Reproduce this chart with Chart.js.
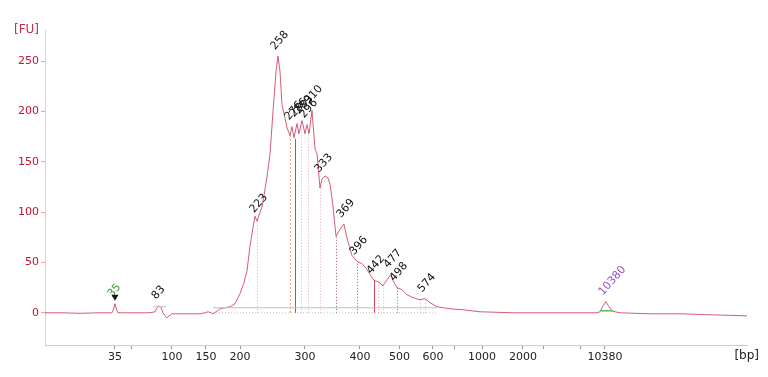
<!DOCTYPE html>
<html>
<head>
<meta charset="utf-8">
<title>Electropherogram</title>
<script src="https://cdn.jsdelivr.net/npm/chart.js"></script>
<style>
  html, body { margin: 0; padding: 0; background: #fff; }
  #wrap { width: 768px; height: 377px; }
</style>
</head>
<body>
<div id="wrap"><canvas id="chart" width="768" height="377"></canvas></div>
<script>
// migration time [s] -> fluorescence [FU]
const traceTime = [40.00, 42.00, 44.50, 47.05, 48.33, 48.59, 48.72, 48.97, 49.23, 49.36, 49.62, 52.18, 53.46, 54.10, 54.36, 54.62, 54.87, 55.13, 55.38, 55.64, 55.90, 56.28,
  57.31, 58.59, 59.87, 60.51, 60.90, 61.28, 61.54, 61.92, 62.44, 63.08, 63.72, 64.36, 65.00, 65.51, 65.90, 66.28, 66.67, 66.92, 67.18, 67.44, 67.82,
  68.21, 68.46, 68.85, 69.23, 69.62, 69.87, 70.13, 70.38, 70.77, 71.03, 71.41, 71.67, 71.92, 72.31, 72.56, 72.95, 73.33, 73.59, 73.85, 74.23, 74.36,
  74.62, 74.87, 75.26, 75.51, 75.90, 76.28, 76.54, 76.92, 77.31, 77.82, 78.33, 78.72, 79.36, 80.00, 80.64, 81.28, 81.92, 82.18, 82.69, 83.33, 83.85,
  84.36, 84.62, 85.13, 85.77, 86.41, 87.18, 88.08, 88.72, 89.36, 90.26, 91.92, 93.59, 95.77, 100.00, 106.03, 110.77, 111.15, 111.54, 111.92, 112.31,
  112.69, 113.08, 113.72, 117.56, 121.41, 125.26, 130.00];
const traceFU = [0, 0, -0.5, 0, 0, 0, 2, 9, 2, 0, 0, 0, 0, 1, 5, 7, 5, 0, -3, -5, -3, -1,
  -1, -1, -1, 0, 1, 0, -1, 1, 4, 5, 6, 9, 19, 30, 42, 66, 85, 96, 91, 97, 105,
  123, 135, 158, 200, 240, 255, 240, 207, 193, 184, 176, 185, 174, 188, 178, 191, 178, 187, 178, 201, 188,
  163, 158, 124, 133, 136, 134, 128, 106, 76, 83, 88, 74, 57, 51, 49, 43, 35, 32, 31, 27, 33,
  38, 32, 25, 23, 18, 15, 13, 14, 10, 6, 4, 3, 1, 0, 0, 0, 1, 7, 11, 6,
  2, 1, 0, -1, -1, -2, -3];

// called peaks
const peakLabels = ['35', '83', '223', '258', '276', '286', '289', '296', '310', '333', '369', '396', '442', '477', '498', '574', '10380'];
const peakTimes = [48.97, 54.62, 67.18, 69.87, 71.67, 72.31, 72.95, 73.59, 74.23, 75.51, 78.33, 80.00, 82.18, 84.36, 85.13, 88.72, 111.92];
const peakFU = [9, 7, 93, 255, 185, 188, 191, 187, 201, 133, 88, 51, 32, 38, 25, 14, 11];

// peak / region marker lines
const markTimes = [67.18, 71.41, 72.05, 72.82, 73.72, 75.26, 77.31, 80.00, 82.18, 82.69, 83.33, 85.13, 88.08, 88.72];
const markFU = [95, 176, 173, 186, 182, 124, 76, 51, 32, 31, 30, 25, 13, 14];
const markKind = ['dot', 'dash', 'solid', 'dot', 'dot', 'dot', 'dark', 'dark', 'solid', 'dot', 'dot', 'red', 'dot', 'dot'];

// size ladder on the time axis
const tickTimes = [48.97, 51.03, 56.28, 60.64, 65.00, 73.33, 80.38, 85.45, 89.74, 92.44, 96.03, 101.28, 103.85, 108.59, 111.79];
const tickLabels = ['35', '', '100', '150', '200', '300', '400', '500', '600', '', '1000', '2000', '', '', '10380'];
const yTicks = [0, 50, 100, 150, 200, 250];

const kindStyle = {
  dot: { color: 'rgba(214,120,140,0.6)', dash: [1, 2] },
  dash: { color: 'rgba(225,140,110,0.9)', dash: [2, 2] },
  solid: { color: 'rgba(205,45,75,0.9)', dash: [] },
  dark: { color: 'rgba(120,50,60,0.8)', dash: [1, 2] },
  red: { color: 'rgba(205,50,70,0.85)', dash: [1, 2] }
};

const pts = (xs, ys) => xs.map((x, i) => ({ x: x, y: ys[i] }));

const overlay = {
  id: 'overlay',
  beforeDatasetsDraw(chart) {
    const { ctx, scales: { x, y } } = chart;
    ctx.save();
    ctx.lineWidth = 1;
    markTimes.forEach((t, i) => {
      const s = kindStyle[markKind[i]];
      const px = Math.round(x.getPixelForValue(t)) + 0.5;
      ctx.strokeStyle = s.color;
      ctx.setLineDash(s.dash);
      ctx.beginPath();
      ctx.moveTo(px, y.getPixelForValue(0));
      ctx.lineTo(px, y.getPixelForValue(markFU[i]));
      ctx.stroke();
    });
    ctx.restore();
  },
  afterDatasetsDraw(chart) {
    const { ctx, chartArea, scales: { x, y } } = chart;
    ctx.save();
    ctx.font = '11px "DejaVu Sans", sans-serif';
    ctx.textAlign = 'left';
    ctx.textBaseline = 'alphabetic';
    peakLabels.forEach((lab, i) => {
      const px = x.getPixelForValue(peakTimes[i]);
      const py = y.getPixelForValue(peakFU[i]);
      ctx.save();
      ctx.translate(px - 3, py - 6);
      ctx.rotate(-0.85);
      ctx.fillStyle = i === 0 ? '#3a9a3a' : (i === peakLabels.length - 1 ? '#9650cc' : '#111');
      ctx.fillText(lab, 0, 0);
      ctx.restore();
    });
    // lower marker triangle
    const mx = x.getPixelForValue(peakTimes[0]);
    const my = y.getPixelForValue(peakFU[0] + 6);
    ctx.fillStyle = '#111';
    ctx.beginPath();
    ctx.moveTo(mx - 3.5, my - 3);
    ctx.lineTo(mx + 3.5, my - 3);
    ctx.lineTo(mx, my + 3);
    ctx.closePath();
    ctx.fill();
    // unit labels
    ctx.font = '12px "DejaVu Sans", sans-serif';
    ctx.fillStyle = '#c0304a';
    ctx.textAlign = 'right';
    ctx.textBaseline = 'middle';
    ctx.fillText('[FU]', chartArea.left - 6, chartArea.top);
    ctx.fillStyle = '#222';
    ctx.fillText('[bp]', chartArea.right + 12, chartArea.bottom + 11);
    ctx.restore();
  }
};

new Chart(document.getElementById('chart'), {
  type: 'line',
  data: {
    datasets: [
      {
        data: pts([61.54, 90.26], [0, 0]),
        borderColor: 'rgba(220,130,150,0.6)', borderWidth: 1, borderDash: [1, 2], pointRadius: 0
      },
      {
        data: pts([61.54, 90.26], [5, 5]),
        borderColor: '#9fd6b4', borderWidth: 1, pointRadius: 0
      },
      {
        data: pts([53.85, 55.51], [6, 6]),
        borderColor: '#bbbbbb', borderWidth: 1, pointRadius: 0
      },
      {
        data: pts([111.15, 112.82], [2, 2]),
        borderColor: '#5cb85c', borderWidth: 1.5, pointRadius: 0
      },
      {
        data: pts(traceTime, traceFU),
        borderColor: 'rgba(205,50,80,0.8)', borderWidth: 1, pointRadius: 0, tension: 0
      }
    ]
  },
  options: {
    responsive: false,
    animation: false,
    devicePixelRatio: 1,
    layout: { padding: { top: 30, right: 21, left: 0, bottom: 0 } },
    plugins: { legend: { display: false }, tooltip: { enabled: false } },
    scales: {
      x: {
        type: 'linear', min: 40, max: 130,
        afterBuildTicks: s => { s.ticks = tickTimes.map(v => ({ value: v })); },
        afterFit: s => { s.height = 32; },
        grid: { display: true, drawOnChartArea: false, drawTicks: true, tickLength: 4, color: '#999' },
        border: { display: true, color: '#cccccc' },
        ticks: {
          autoSkip: false, maxRotation: 0, padding: 2,
          color: '#222', font: { family: '"DejaVu Sans", sans-serif', size: 11 },
          callback: (v, i) => tickLabels[i]
        }
      },
      y: {
        min: -32, max: 281,
        afterBuildTicks: s => { s.ticks = yTicks.map(v => ({ value: v })); },
        afterFit: s => { s.width = 45; },
        grid: { display: true, drawOnChartArea: false, drawTicks: true, tickLength: 4, color: '#e8a0ac' },
        border: { display: true, color: '#f4c4cc' },
        ticks: {
          padding: 2, color: '#c8102e',
          font: { family: '"DejaVu Sans", sans-serif', size: 11 }
        }
      }
    }
  },
  plugins: [overlay]
});
</script>
</body>
</html>
